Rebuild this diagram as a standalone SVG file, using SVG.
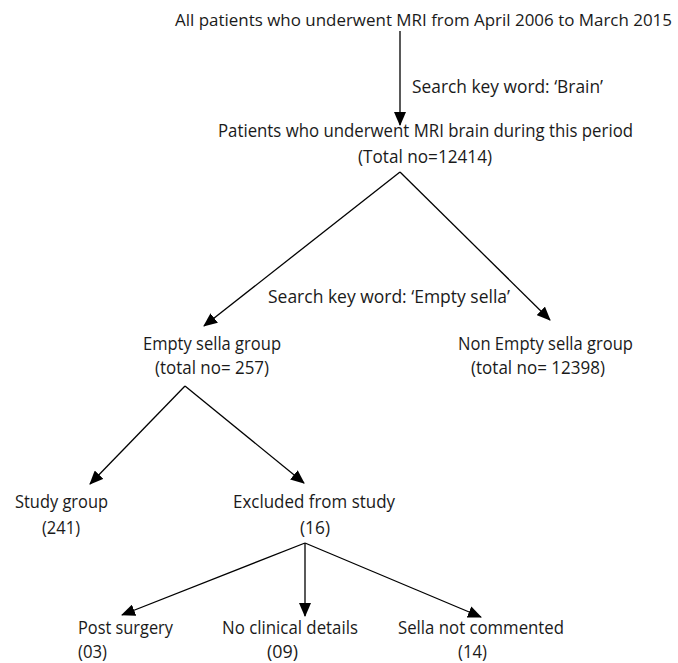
<svg xmlns="http://www.w3.org/2000/svg" width="678" height="663" viewBox="0 0 678 663">
<style>
text{font-family:"Open Sans","Liberation Sans",sans-serif;font-size:17.5px;fill:#1a1a1a}
.c line{stroke:#000;stroke-width:1.3;fill:none}
</style>
<defs>
<marker id="ah" markerUnits="userSpaceOnUse" markerWidth="14" markerHeight="12" viewBox="0 0 14 12" refX="13" refY="6" orient="auto">
<path d="M0,0 L14,6 L0,12 Z" fill="#000"/>
</marker>
</defs>
<rect width="678" height="663" fill="#fff"/>
<g class="c" id="connectors">
<line x1="400" y1="31" x2="400" y2="125" marker-end="url(#ah)"/>
<line x1="400" y1="172" x2="204" y2="326" marker-end="url(#ah)"/>
<line x1="400" y1="172" x2="550" y2="320" marker-end="url(#ah)"/>
<line x1="185" y1="386" x2="90" y2="484" marker-end="url(#ah)"/>
<line x1="185" y1="386" x2="304" y2="483" marker-end="url(#ah)"/>
<line x1="305" y1="543" x2="122" y2="615" marker-end="url(#ah)"/>
<line x1="305" y1="543" x2="305" y2="616" marker-end="url(#ah)"/>
<line x1="305" y1="543" x2="481" y2="617" marker-end="url(#ah)"/>
</g>
<g id="label-brain"><text x="412" y="93" textLength="191" lengthAdjust="spacingAndGlyphs">Search key word: ‘Brain’</text></g>
<g id="label-empty"><text x="268" y="303" textLength="242" lengthAdjust="spacingAndGlyphs">Search key word: ‘Empty sella’</text></g>
<g id="n-all"><text x="175" y="26" style="font-size:16.5px" textLength="497" lengthAdjust="spacingAndGlyphs">All patients who underwent MRI from April 2006 to March 2015</text></g>
<g id="n-brain">
<text x="218" y="137" textLength="415" lengthAdjust="spacingAndGlyphs">Patients who underwent MRI brain during this period</text>
<text x="358" y="163" textLength="134" lengthAdjust="spacingAndGlyphs">(Total no=12414)</text>
</g>
<g id="n-empty">
<text x="143" y="350" textLength="138" lengthAdjust="spacingAndGlyphs">Empty sella group</text>
<text x="155" y="374" textLength="114" lengthAdjust="spacingAndGlyphs">(total no= 257)</text>
</g>
<g id="n-nonempty">
<text x="458" y="350" textLength="175" lengthAdjust="spacingAndGlyphs">Non Empty sella group</text>
<text x="471" y="374" textLength="134" lengthAdjust="spacingAndGlyphs">(total no= 12398)</text>
</g>
<g id="n-study">
<text x="15" y="508" textLength="93" lengthAdjust="spacingAndGlyphs">Study group</text>
<text x="42" y="534" textLength="38" lengthAdjust="spacingAndGlyphs">(241)</text>
</g>
<g id="n-excluded">
<text x="233" y="508" textLength="162" lengthAdjust="spacingAndGlyphs">Excluded from study</text>
<text x="300" y="534" textLength="30" lengthAdjust="spacingAndGlyphs">(16)</text>
</g>
<g id="n-post">
<text x="78" y="634" textLength="95" lengthAdjust="spacingAndGlyphs">Post surgery</text>
<text x="78" y="658" textLength="29" lengthAdjust="spacingAndGlyphs">(03)</text>
</g>
<g id="n-noclin">
<text x="222" y="634" textLength="136" lengthAdjust="spacingAndGlyphs">No clinical details</text>
<text x="267" y="658" textLength="31" lengthAdjust="spacingAndGlyphs">(09)</text>
</g>
<g id="n-sella">
<text x="398" y="634" textLength="166" lengthAdjust="spacingAndGlyphs">Sella not commented</text>
<text x="458" y="658" textLength="29" lengthAdjust="spacingAndGlyphs">(14)</text>
</g>
</svg>
